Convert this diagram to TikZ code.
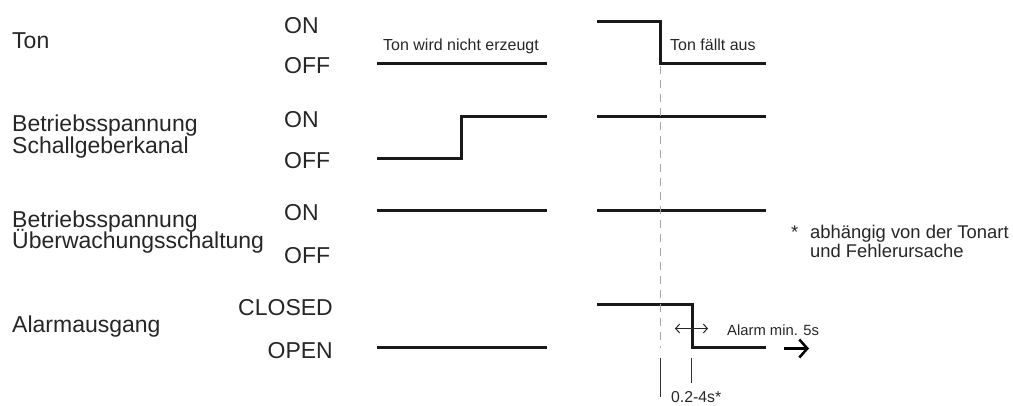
\documentclass[tikz,border=0pt]{standalone}
\usepackage{fontspec}
\setmainfont{Liberation Sans}
\usetikzlibrary{arrows.meta}
\begin{document}
\begin{tikzpicture}[x=1pt,y=-1pt,
  lbl/.style={anchor=base west,inner sep=0pt,text=black!85,font=\fontsize{23}{23}\selectfont},
  lblr/.style={anchor=base east,inner sep=0pt,text=black!85,font=\fontsize{23}{23}\selectfont},
  small/.style={anchor=base west,inner sep=0pt,text=black!85,font=\fontsize{16}{16}\selectfont},
  note/.style={anchor=base west,inner sep=0pt,text=black!85,font=\fontsize{18.4}{18.4}\selectfont},
  wave/.style={line width=2.8pt,black!90,line cap=butt,line join=miter},
  guide/.style={line width=1.3pt,black!35,dash pattern=on 8pt off 6pt},
  tick/.style={line width=1.1pt,black!80}]
\useasboundingbox (0,0) rectangle (1013,405);
% left labels
\node[lbl] (ton) at (12,48) {Ton};
\node[lbl] (b1a) at (12,131.5) {Betriebsspannung};
\node[lbl] (b1b) at (12,153) {Schallgeberkanal};
\node[lbl] (b2a) at (12,227.5) {Betriebsspannung};
\node[lbl] (b2b) at (12,248.5) {Überwachungsschaltung};
\node[lbl] (alarm) at (12,332) {Alarmausgang};
% state labels
\node[lbl] (on1) at (284,33) {ON};
\node[lbl] (off1) at (284,73) {OFF};
\node[lbl] (on2) at (284,127) {ON};
\node[lbl] (off2) at (284,168) {OFF};
\node[lbl] (on3) at (284,220) {ON};
\node[lbl] (off3) at (284,263) {OFF};
\node[lblr] (closed) at (333,315) {CLOSED};
\node[lblr] (open) at (333,358) {OPEN};
% waveforms
\draw[wave] (377,63.5) -- (547,63.5);
\draw[wave] (597,21.5) -- (660.5,21.5) -- (660.5,63.5) -- (766,63.5);
\draw[wave] (377,158.5) -- (461.5,158.5) -- (461.5,116.5) -- (547,116.5);
\draw[wave] (597,116.5) -- (766,116.5);
\draw[wave] (377,210.5) -- (547,210.5);
\draw[wave] (597,210.5) -- (766,210.5);
\draw[wave] (377,347.5) -- (547,347.5);
\draw[wave] (597,304.5) -- (692.5,304.5) -- (692.5,347.5) -- (766,347.5);
% guide and ticks
\coordinate (g1) at (660.5,66);
\coordinate (g2) at (660.5,348);
\draw[guide] (g1) -- (g2);
\coordinate (t1a) at (660.5,358); \coordinate (t1b) at (660.5,397);
\coordinate (t2a) at (691.5,358); \coordinate (t2b) at (691.5,383);
\draw[tick] (t1a) -- (t1b);
\draw[tick] (t2a) -- (t2b);
% arrows
\coordinate (d1) at (675,328.5); \coordinate (d2) at (708,328.5);
\draw[line width=1pt,black!85,{Straight Barb[length=4pt,width=9pt]}-{Straight Barb[length=4pt,width=9pt]}] (d1) -- (d2);
\coordinate (a1) at (784,348.5); \coordinate (a2) at (809,348.5);
\draw[line width=2.5pt,black,-{Straight Barb[length=8pt,width=18pt,line width=2.5pt]}] (a1) -- (a2);
% small texts
\node[small] (t1) at (383,50) {Ton wird nicht erzeugt};
\node[small] (t2) at (670,50) {Ton fällt aus};
\node[small,font=\fontsize{14.8}{14.8}\selectfont] (t3) at (727,335) {Alarm min. 5s};
\node[small,font=\fontsize{15.8}{15.8}\selectfont] (t4) at (671,402) {0.2-4s*};
\node[note] (star) at (791,238) {*};
\node[note] (n1) at (810,238) {abhängig von der Tonart};
\node[note] (n2) at (810,257) {und Fehlerursache};
\end{tikzpicture}
\end{document}
